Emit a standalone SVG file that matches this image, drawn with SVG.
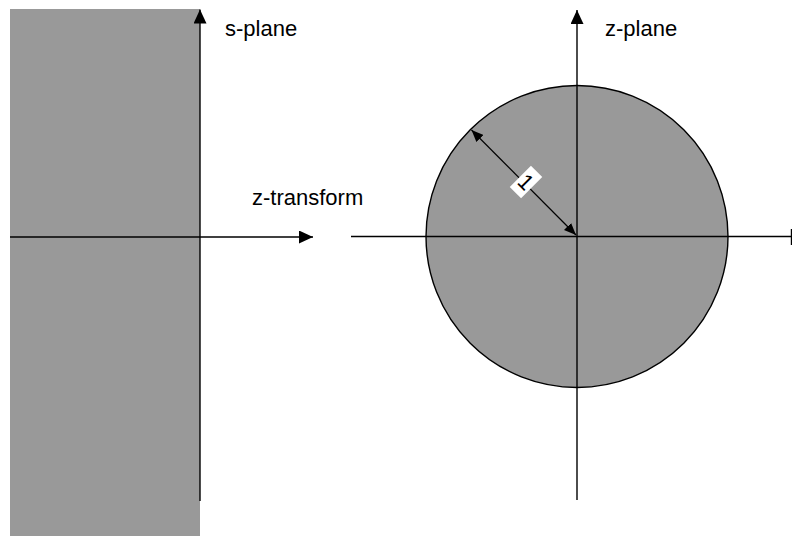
<svg xmlns="http://www.w3.org/2000/svg" width="792" height="536" viewBox="0 0 792 536">
<style>
.ax{stroke:#000;stroke-width:1.4;fill:none}
.lbl{font-family:"Liberation Sans",Arial,sans-serif;font-size:22px;fill:#000}
.reg{fill:#999999}
</style>
<defs>
<marker id="ah" viewBox="0 0 14 13" refX="14" refY="6.5" markerWidth="14" markerHeight="13" markerUnits="userSpaceOnUse" orient="auto">
<path d="M0,0 L14,6.5 L0,13 Z" fill="#000"/>
</marker>
<marker id="ahs" viewBox="0 0 12 10" refX="12" refY="5" markerWidth="12" markerHeight="10" markerUnits="userSpaceOnUse" orient="auto-start-reverse">
<path d="M0,0 L12,5 L0,10 Z" fill="#000"/>
</marker>
</defs>
<rect width="792" height="536" fill="#fff"/>
<g id="s-region"><rect class="reg" x="10" y="9" width="190" height="527"/></g>
<g id="z-region"><circle cx="577" cy="236.5" r="151" fill="#999999" stroke="#000" stroke-width="1.4"/></g>
<g id="connectors">
<line class="ax" x1="200" y1="501" x2="200" y2="9.5" marker-end="url(#ah)"/>
<line class="ax" x1="10" y1="237" x2="313" y2="237" marker-end="url(#ah)"/>
<line class="ax" x1="577" y1="500" x2="577" y2="10" marker-end="url(#ah)"/>
<line class="ax" x1="351" y1="236.5" x2="791.5" y2="236.5"/>
<line class="ax" x1="791.5" y1="229" x2="791.5" y2="245"/>
<line x1="576" y1="235" x2="471.5" y2="130" stroke="#000" stroke-width="1.2" marker-start="url(#ahs)" marker-end="url(#ahs)"/>
</g>
<g id="radius-label" transform="translate(526,182) rotate(45)">
<rect x="-8" y="-15" width="16" height="30" fill="#fff"/>
<text class="lbl" x="0" y="7.5" text-anchor="middle" font-size="20">1</text>
</g>
<g id="labels">
<text class="lbl" x="225" y="36">s-plane</text>
<text class="lbl" x="252" y="205">z-transform</text>
<text class="lbl" x="605" y="36">z-plane</text>
</g>
</svg>
